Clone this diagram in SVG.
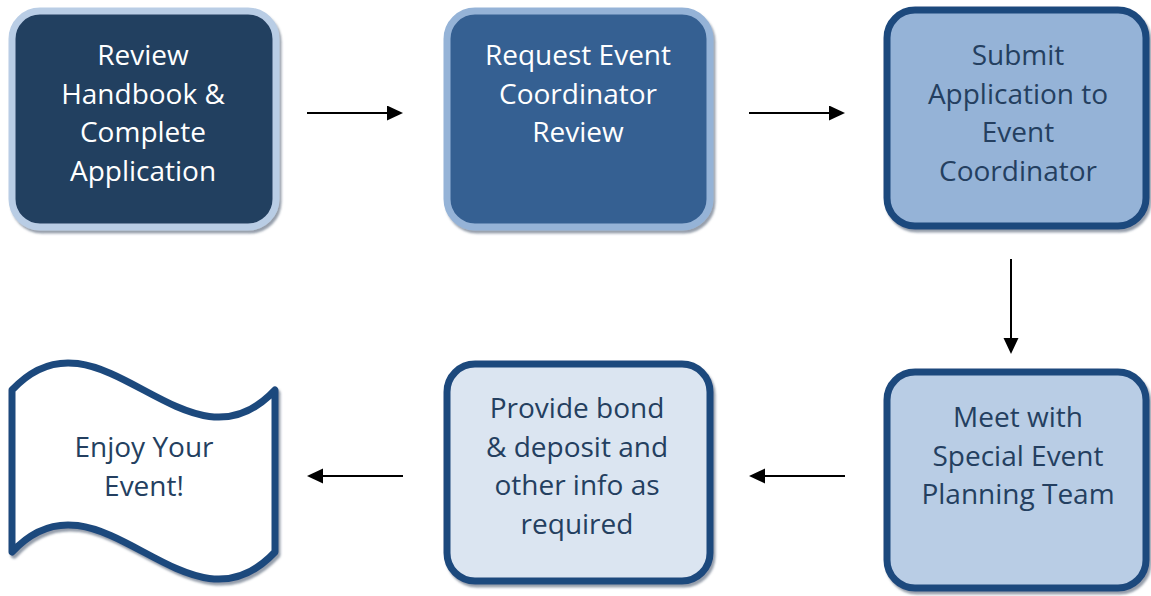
<svg xmlns="http://www.w3.org/2000/svg" width="1151" height="596" viewBox="0 0 1151 596">
  <style>
    .box { stroke-width: 7; stroke-linejoin: round; filter: url(#shadow); }
    .lbl { font-family: "Open Sans", "Noto Sans", sans-serif; font-size: 28px; text-anchor: middle; }
    .light { fill: #ffffff; }
    .dark { fill: #243F60; }
    .conn { stroke: #000000; stroke-width: 2; fill: none; marker-end: url(#arrow); }
  </style>
  <defs>
    <filter id="shadow" x="-10%" y="-10%" width="125%" height="125%">
      <feDropShadow dx="2" dy="3" stdDeviation="1" flood-color="#3f4f66" flood-opacity="0.55"/>
    </filter>
    <marker id="arrow" markerUnits="userSpaceOnUse" markerWidth="16" markerHeight="16" refX="6" refY="7.5" orient="auto">
      <path d="M0,0 L16,7.5 L0,15 Z" fill="#000000"/>
    </marker>
  </defs>

  <rect width="1151" height="596" fill="#ffffff"/>

  <g id="step-review-handbook">
    <rect class="box" x="12" y="11" width="264" height="216" rx="28" fill="#243F60" stroke="#B9CDE5"/>
    <text class="lbl light" x="143" y="65">Review</text>
    <text class="lbl light" x="143" y="103.5">Handbook &amp;</text>
    <text class="lbl light" x="143" y="142">Complete</text>
    <text class="lbl light" x="143" y="180.5">Application</text>
  </g>

  <g id="step-request-review">
    <rect class="box" x="447" y="11" width="263" height="216" rx="28" fill="#366092" stroke="#95B3D7"/>
    <text class="lbl light" x="578" y="65">Request Event</text>
    <text class="lbl light" x="578" y="103.5">Coordinator</text>
    <text class="lbl light" x="578" y="142">Review</text>
  </g>

  <g id="step-submit-application">
    <rect class="box" x="887" y="10" width="259" height="216" rx="28" fill="#95B3D7" stroke="#1F497D"/>
    <text class="lbl dark" x="1018" y="65">Submit</text>
    <text class="lbl dark" x="1018" y="103.5">Application to</text>
    <text class="lbl dark" x="1018" y="142">Event</text>
    <text class="lbl dark" x="1018" y="180.5">Coordinator</text>
  </g>

  <g id="step-meet-team">
    <rect class="box" x="887" y="372" width="259" height="216" rx="28" fill="#B9CDE5" stroke="#1F497D"/>
    <text class="lbl dark" x="1018" y="427">Meet with</text>
    <text class="lbl dark" x="1018" y="465.5">Special Event</text>
    <text class="lbl dark" x="1018" y="504">Planning Team</text>
  </g>

  <g id="step-provide-bond">
    <rect class="box" x="447" y="364" width="263" height="217" rx="28" fill="#DBE5F1" stroke="#1F497D"/>
    <text class="lbl dark" x="577" y="418">Provide bond</text>
    <text class="lbl dark" x="577" y="456.5">&amp; deposit and</text>
    <text class="lbl dark" x="577" y="495">other info as</text>
    <text class="lbl dark" x="577" y="533.5">required</text>
  </g>

  <g id="step-enjoy-event">
    <path class="box" d="M12,390 C99.7,296 187.3,484 275,390 L275,552 C187.3,646 99.7,458 12,552 Z" fill="#ffffff" stroke="#1F497D"/>
    <text class="lbl dark" x="144" y="457">Enjoy Your</text>
    <text class="lbl dark" x="144" y="496">Event!</text>
  </g>

  <g id="connectors">
    <line class="conn" x1="307" y1="113" x2="393" y2="113"/>
    <line class="conn" x1="749" y1="113" x2="835" y2="113"/>
    <line class="conn" x1="1011" y1="259" x2="1011" y2="344"/>
    <line class="conn" x1="845" y1="476" x2="759" y2="476"/>
    <line class="conn" x1="403" y1="476" x2="317" y2="476"/>
  </g>
</svg>
